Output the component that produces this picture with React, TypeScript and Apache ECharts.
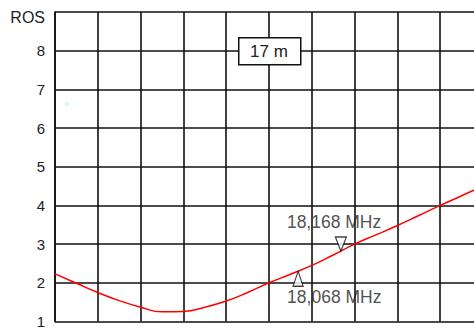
import React, { useEffect, useRef } from "react";
import * as echarts from "echarts";

// Frequency sweep (kHz) and measured SWR (ROS) along the 17 m band
const freqs = [17500, 17550, 17600, 17650, 17700, 17750, 17800, 17850, 17900, 17950, 18000, 18050, 18100, 18150, 18200, 18250, 18300, 18350, 18400, 18450, 18500];
const ros = [2.23, 1.99, 1.75, 1.54, 1.37, 1.25, 1.26, 1.37, 1.53, 1.75, 2.0, 2.22, 2.45, 2.72, 3.0, 3.24, 3.48, 3.74, 4.0, 4.25, 4.5];

// Band-edge markers
const markerFreqs = [18068, 18168];
const markerRos = [2.3, 2.82];
const markerLabels = ["18,068 MHz", "18,168 MHz"];

const yTicks = [1, 2, 3, 4, 5, 6, 7, 8, 9];
const bandName = "17 m";

const FONT = "'Liberation Sans', Arial, sans-serif";

export default function App() {
  const ref = useRef<HTMLDivElement>(null);

  useEffect(() => {
    if (!ref.current) return;
    const chart = echarts.init(ref.current, null, { renderer: "svg" });

    const lineData = freqs.map((f, i) => [f, ros[i]]);

    chart.setOption({
      animation: false,
      backgroundColor: "#ffffff",
      grid: { left: 55, top: 12, bottom: 6, right: 0 },
      xAxis: {
        type: "value",
        min: 17500,
        max: 18500,
        interval: 100,
        axisLine: { show: false },
        axisTick: { show: false },
        axisLabel: { show: false },
        splitLine: { show: true, lineStyle: { color: "#111", width: 1.6 } },
      },
      yAxis: {
        type: "value",
        min: yTicks[0],
        max: yTicks[yTicks.length - 1],
        interval: 1,
        axisLine: { show: true, lineStyle: { color: "#111", width: 1.6 } },
        axisTick: { show: false },
        axisLabel: {
          margin: 10,
          color: "#222",
          fontFamily: FONT,
          fontSize: 15,
          formatter: (v: number) => (v === 9 ? "{ros|ROS}" : String(v)),
          rich: {
            ros: { fontFamily: FONT, fontSize: 16, color: "#222", padding: [10, 0, 0, 0] },
          },
        },
        splitLine: { show: true, lineStyle: { color: "#111", width: 1.6 } },
      },
      series: [
        {
          type: "line",
          data: lineData,
          smooth: 0.5,
          symbol: "none",
          lineStyle: { color: "#ff0000", width: 1.5 },
          z: 3,
        },
        {
          type: "scatter",
          z: 4,
          data: [
            {
              value: [markerFreqs[0], markerRos[0]],
              symbol: "triangle",
              symbolSize: [10, 15],
              symbolOffset: [0, 7.5],
              label: {
                show: true,
                position: "inside",
                align: "left",
                verticalAlign: "middle",
                offset: [-11, 18.5],
                formatter: markerLabels[0],
              },
            },
            {
              value: [markerFreqs[1], markerRos[1]],
              symbol: "triangle",
              symbolRotate: 180,
              symbolSize: [11, 14],
              symbolOffset: [0, -7],
              label: {
                show: true,
                position: "inside",
                align: "left",
                verticalAlign: "middle",
                offset: [-54, -22],
                formatter: markerLabels[1],
              },
            },
          ],
          itemStyle: { color: "#ffffff", borderColor: "#111", borderWidth: 1.3 },
          label: { color: "#222", fontFamily: FONT, fontSize: 17.5 },
        },
      ],
      graphic: [
        {
          type: "rect",
          left: 238,
          top: 37,
          z: 100,
          shape: { x: 0, y: 0, width: 62, height: 27 },
          style: { fill: "#ffffff", stroke: "#111", lineWidth: 1.5 },
        },
        {
          type: "text",
          x: 269,
          y: 51,
          z: 101,
          style: {
            text: bandName,
            fill: "#222",
            font: `17px ${FONT}`,
            align: "center",
            verticalAlign: "middle",
          },
        },
        {
          type: "rect",
          left: 66,
          top: 103,
          shape: { x: 0, y: 0, width: 2, height: 2 },
          style: { fill: "#8ff" },
        },
      ],
    });

    return () => chart.dispose();
  }, []);

  // The plot runs one grid column past the visible edge, so the outer box clips it
  return (
    <div style={{ position: "fixed", left: 0, top: 0, width: 474, height: 329, overflow: "hidden", background: "#fff" }}>
      <div ref={ref} style={{ width: 483, height: 329 }} />
    </div>
  );
}
